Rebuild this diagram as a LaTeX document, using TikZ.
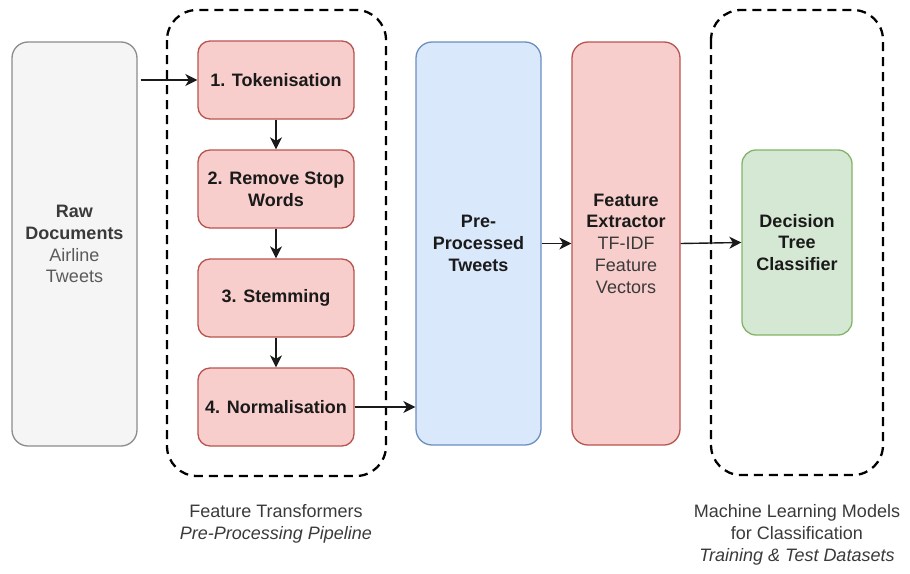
\documentclass[tikz,border=0pt]{standalone}
\usepackage{fontspec}
\setmainfont{Liberation Sans}
\usetikzlibrary{arrows.meta}
\definecolor{grayfill}{HTML}{F5F5F5}
\definecolor{graystroke}{HTML}{8C8C8C}
\definecolor{pinkfill}{HTML}{F8CECC}
\definecolor{pinkstroke}{HTML}{B85450}
\definecolor{bluefill}{HTML}{DAE8FC}
\definecolor{bluestroke}{HTML}{6C8EBF}
\definecolor{greenfill}{HTML}{D5E8D4}
\definecolor{greenstroke}{HTML}{82B366}
\definecolor{darktext}{HTML}{1A1A1A}
\definecolor{softtext}{HTML}{3A3A3A}
\definecolor{greytext}{HTML}{5A5A5A}
\tikzset{
  box/.style={draw, line width=1.3pt, inner sep=0pt, align=center,
    font=\fontsize{18}{21.8}\selectfont, text=darktext},
  stepbox/.style={box, fill=pinkfill, draw=pinkstroke, rounded corners=12pt,
    minimum width=156pt, minimum height=78pt, font=\fontsize{18}{21.8}\selectfont\bfseries},
  groupbox/.style={draw=black, line width=2.3pt, dash pattern=on 9pt off 6pt,
    rounded corners=30pt},
  flow/.style={draw=darktext, line width=1.4pt,
    -{Stealth[length=12pt,width=12pt,inset=3.5pt]}},
  caption/.style={align=center, text=softtext, inner sep=0pt,
    font=\fontsize{18}{22}\selectfont}
}
\begin{document}
\begin{tikzpicture}[x=1pt,y=-1pt]
\useasboundingbox (0,0) rectangle (910,573);

% grouping frames
\draw[groupbox] (167,10) rectangle (386,476);
\draw[groupbox] (711,10) rectangle (883,475);

% input documents
\node[box, fill=grayfill, draw=graystroke, rounded corners=16pt,
  minimum width=125pt, minimum height=404pt] (raw) at (74.5,244)
  {\textcolor{softtext}{\bfseries Raw}\\\textcolor{softtext}{\bfseries Documents}\\
   \textcolor{greytext}{Airline}\\\textcolor{greytext}{Tweets}};

% pre-processing pipeline
\node[stepbox] (tok)  at (276,80)  {1. Tokenisation};
\node[stepbox] (stop) at (276,189) {2. Remove Stop\\Words};
\node[stepbox] (stem) at (276,298) {3. Stemming};
\node[stepbox] (norm) at (276,407) {4. Normalisation};

% processed data and features
\node[box, fill=bluefill, draw=bluestroke, rounded corners=16pt,
  minimum width=125pt, minimum height=403pt] (pre) at (478.5,243.5)
  {\bfseries Pre-\\\bfseries Processed\\\bfseries Tweets};
\node[box, fill=pinkfill, draw=pinkstroke, rounded corners=16pt,
  minimum width=108pt, minimum height=403pt] (feat) at (626,243.5)
  {\bfseries Feature\\\bfseries Extractor\\
   \textcolor{softtext}{TF-IDF}\\\textcolor{softtext}{Feature}\\\textcolor{softtext}{Vectors}};

% model
\node[box, fill=greenfill, draw=greenstroke, rounded corners=14pt,
  minimum width=110pt, minimum height=185pt] (dec) at (797,242.5)
  {\bfseries Decision\\\bfseries Tree\\\bfseries Classifier};

% connectors
\draw[flow] (raw.east |- tok.west) ++(3,0) -- (tok.west);
\draw[flow] (tok.south) -- (stop.north);
\draw[flow] (stop.south) -- (stem.north);
\draw[flow] (stem.south) -- (norm.north);
\draw[flow] (norm.east) -- (pre.west |- norm.east);
\draw[flow] (pre.east) -- (feat.west);
\draw[flow] (feat.east) -- (dec.west);

% captions
\node[caption] (capA) at (276,524) {Feature Transformers\\\itshape Pre-Processing Pipeline};
\node[caption] (capB) at (797,535) {Machine Learning Models\\for Classification\\\itshape Training \& Test Datasets};
\end{tikzpicture}
\end{document}
